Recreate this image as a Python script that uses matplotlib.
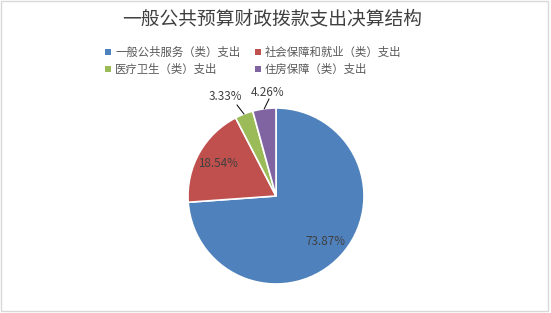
import numpy as np
import matplotlib
matplotlib.use("Agg")
import matplotlib.pyplot as plt
from matplotlib.patches import Rectangle

plt.rcParams["font.family"] = ["Noto Sans CJK SC", "DejaVu Sans"]

title = "一般公共预算财政拨款支出决算结构"
categories = ["一般公共服务（类）支出", "社会保障和就业（类）支出", "医疗卫生（类）支出", "住房保障（类）支出"]
shares = [73.87, 18.54, 3.33, 4.26]
colors = ["#4f81bd", "#c0504d", "#9bbb59", "#8064a2"]

W, H = 551, 313
fig = plt.figure(figsize=(W / 100, H / 100), dpi=100)
ax = fig.add_axes([0, 0, 1, 1])

cx, cy, r = 276, H - 196, 88
wedges, _ = ax.pie(shares, colors=colors, startangle=90, counterclock=False,
                   center=(cx, cy), radius=r,
                   wedgeprops=dict(edgecolor="white", linewidth=1.2))
ax.set_xlim(0, W)
ax.set_ylim(0, H)
ax.set_aspect("equal")
ax.axis("off")

# data labels
for i, (w, v) in enumerate(zip(wedges, shares)):
    ang = np.deg2rad((w.theta1 + w.theta2) / 2)
    txt = "{:.2f}%".format(v)
    if v > 10:
        d = 0.76 * r
        ax.text(cx + d * np.cos(ang), cy + d * np.sin(ang), txt, ha="center", va="center",
                fontsize=8.4, color="#404040")
    else:
        ex, ey = cx + r * np.cos(ang), cy + r * np.sin(ang)
        if i == 2:
            tx, ty = cx - 51, cy + 99
            lx, ly = tx + 12, ty - 8
        else:
            tx, ty = cx - 8, cy + 103
            lx, ly = tx + 1, ty - 6
        ax.plot([ex, lx], [ey, ly], color="black", linewidth=0.7)
        ax.text(tx, ty, txt, ha="center", va="center", fontsize=8.4, color="#404040")

# title
fig.text(272 / W, 1 - 19 / H, title, ha="center", va="center", fontsize=13.5, color="#404040")

# legend
col_x = [108, 258]
row_y = [52, 69]
for i, (name, c) in enumerate(zip(categories, colors)):
    x = col_x[i % 2]
    y = row_y[i // 2]
    fig.patches.append(Rectangle(((x - 3) / W, 1 - (y + 3) / H), 6 / W, 6 / H,
                                 transform=fig.transFigure, facecolor=c, edgecolor="none"))
    fig.text((x + 7) / W, 1 - y / H, name, ha="left", va="center", fontsize=8.2, color="#595959")

# chart border
fig.patches.append(Rectangle((1 / W, 2 / H), (W - 4) / W, (H - 3) / H, transform=fig.transFigure,
                             facecolor="none", edgecolor="#d9d9d9", linewidth=1))

fig.savefig("out.png", dpi=100)
